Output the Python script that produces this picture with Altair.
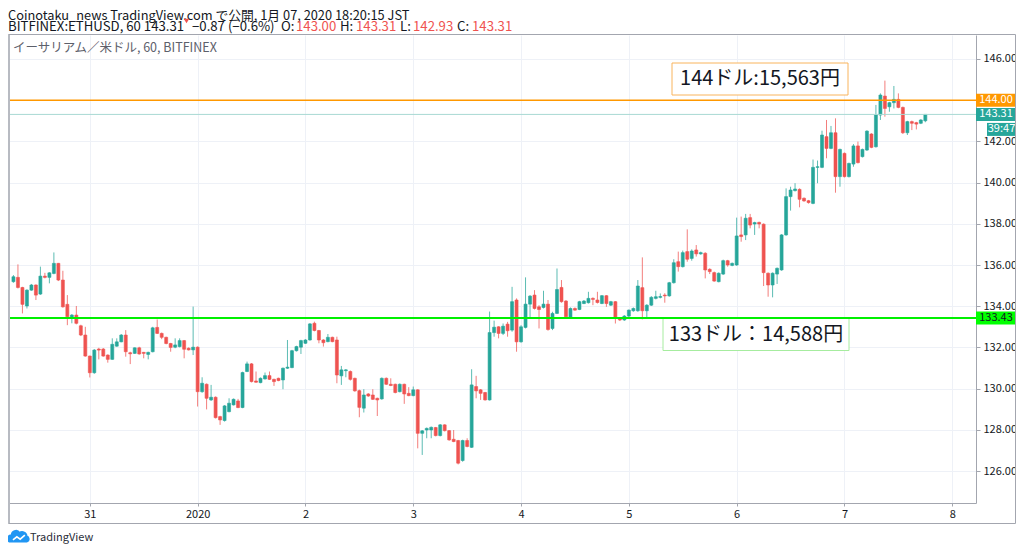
import altair as alt
import pandas as pd

# ---------------- data (hourly candles, JST) ----------------
start_time = "2019-12-30 07:00"

opens = [
    135.19, 135.40, 134.91, 134.01, 134.78, 135.03, 134.59, 135.46, 135.40, 135.59,
    136.08, 135.27, 134.09, 133.41, 133.57, 133.05, 132.60, 131.58, 130.77, 131.92,
    131.92, 131.63, 131.42, 132.06, 132.27, 132.60, 131.74, 131.71, 131.98, 131.76,
    131.66, 131.79, 132.97, 132.68, 132.49, 132.19, 132.01, 132.04, 132.33, 131.96,
    131.88, 132.01, 129.85, 130.21, 129.45, 129.58, 128.64, 128.45, 128.88, 129.21,
    129.40, 129.08, 130.83, 131.20, 130.37, 130.29, 130.47, 130.63, 130.45, 130.50,
    130.42, 130.99, 131.02, 131.84, 132.01, 132.20, 132.36, 133.17, 132.82, 132.36,
    132.28, 132.49, 132.36, 130.62, 130.87, 130.83, 130.50, 129.90, 129.05, 129.74,
    129.69, 129.53, 129.50, 130.50, 130.21, 130.21, 129.85, 130.21, 129.77, 129.66,
    129.94, 127.83, 127.99, 127.99, 128.11, 127.72, 128.24, 127.96, 127.54, 127.48,
    126.51, 127.48, 127.15, 130.10, 129.94, 129.81, 129.45, 132.72, 133.00, 132.68,
    133.13, 132.84, 134.30, 132.27, 132.97, 134.10, 134.54, 133.97, 133.94, 134.10,
    132.92, 133.65, 134.91, 134.25, 133.46, 133.89, 133.84, 134.13, 134.17, 134.38,
    134.30, 134.13, 134.51, 134.05, 134.22, 133.41, 133.33, 133.52, 133.78, 133.78,
    134.90, 133.78, 134.05, 134.38, 134.43, 134.54, 134.50, 135.14, 136.16, 135.92,
    136.65, 136.32, 136.73, 136.54, 136.57, 135.79, 135.63, 135.19, 135.56, 136.21,
    135.98, 136.00, 137.46, 137.46, 138.30, 137.99, 138.07, 137.98, 135.60, 135.03,
    135.56, 135.76, 137.46, 139.32, 139.61, 139.67, 139.24, 139.12, 138.99, 140.74,
    140.74, 142.23, 141.66, 142.42, 140.29, 141.42, 140.29, 140.90, 141.78, 141.26,
    141.58, 142.36, 141.74, 143.28, 144.20, 143.68, 143.88, 144.04, 143.65, 142.42,
    142.96, 142.91, 142.88, 143.00,
]
highs = [
    135.51, 136.03, 134.94, 134.82, 135.08, 135.06, 135.92, 135.62, 135.65, 136.61,
    136.10, 135.72, 134.54, 133.62, 134.01, 133.10, 133.00, 131.60, 131.92, 131.98,
    131.97, 131.66, 132.44, 132.44, 132.65, 132.84, 131.79, 132.00, 132.03, 131.78,
    131.79, 133.00, 133.36, 132.72, 132.52, 132.22, 132.44, 132.44, 132.36, 132.00,
    133.98, 132.05, 130.55, 130.25, 130.18, 129.62, 128.68, 129.20, 129.53, 129.52,
    129.50, 130.82, 131.31, 131.24, 130.83, 130.54, 130.78, 130.83, 130.48, 130.53,
    131.02, 132.36, 131.88, 132.08, 132.37, 132.40, 133.18, 133.25, 132.85, 132.40,
    132.65, 132.52, 132.52, 131.10, 130.95, 130.88, 130.53, 129.95, 129.97, 129.78,
    129.97, 129.56, 130.54, 130.54, 130.50, 130.24, 130.25, 130.24, 130.07, 130.10,
    129.97, 127.99, 128.11, 128.16, 128.14, 128.28, 128.27, 127.99, 127.99, 127.51,
    127.52, 127.59, 130.94, 130.62, 129.98, 129.84, 133.74, 133.30, 133.03, 133.16,
    133.24, 134.94, 134.38, 133.08, 135.40, 134.54, 134.78, 134.05, 134.75, 134.30,
    133.73, 135.83, 135.27, 134.30, 133.94, 133.94, 134.26, 134.30, 134.70, 134.43,
    134.70, 134.54, 134.54, 134.26, 134.25, 133.46, 133.57, 133.84, 133.94, 135.27,
    136.37, 134.10, 134.49, 134.75, 134.62, 134.63, 135.18, 136.28, 136.65, 136.70,
    137.73, 136.76, 136.97, 136.65, 136.62, 135.84, 135.68, 135.64, 136.26, 136.25,
    136.12, 138.30, 138.35, 138.48, 138.48, 138.10, 138.10, 138.02, 135.64, 135.64,
    135.88, 137.50, 139.72, 139.80, 139.97, 139.72, 139.28, 139.16, 141.12, 141.07,
    142.52, 143.04, 142.75, 143.12, 141.65, 141.46, 140.97, 141.87, 141.99, 141.65,
    142.54, 142.40, 143.77, 144.33, 144.95, 143.92, 144.69, 144.33, 143.69, 143.00,
    143.01, 142.95, 143.08, 143.31,
]
lows = [
    135.14, 134.86, 133.65, 133.89, 134.75, 134.30, 134.55, 135.35, 135.11, 135.55,
    135.22, 133.93, 133.08, 133.17, 133.12, 132.55, 131.55, 130.54, 130.72, 131.42,
    131.55, 131.26, 131.40, 132.03, 132.25, 131.55, 131.19, 131.68, 131.65, 131.47,
    131.42, 131.76, 132.65, 132.40, 132.15, 131.79, 131.96, 132.00, 131.47, 131.85,
    131.63, 129.13, 129.80, 128.99, 129.40, 128.55, 128.24, 128.40, 128.85, 129.18,
    129.05, 129.05, 130.80, 130.30, 130.28, 130.26, 130.44, 130.42, 130.13, 130.36,
    129.97, 130.96, 130.99, 131.80, 131.68, 132.17, 132.33, 132.78, 132.20, 132.04,
    132.25, 132.25, 130.26, 130.18, 130.55, 130.39, 129.85, 128.61, 128.84, 129.60,
    129.45, 128.67, 129.46, 130.18, 130.12, 129.77, 129.82, 129.26, 129.63, 129.63,
    127.10, 126.78, 127.59, 127.59, 127.68, 127.68, 127.92, 127.47, 127.40, 126.32,
    126.45, 127.15, 127.12, 129.53, 129.45, 129.42, 129.42, 132.52, 132.44, 132.60,
    132.52, 132.76, 131.79, 132.23, 132.92, 133.41, 133.84, 132.92, 133.89, 132.81,
    132.84, 133.62, 134.17, 133.46, 133.41, 133.78, 133.81, 134.10, 134.13, 134.05,
    134.13, 134.10, 133.97, 134.01, 133.16, 133.28, 133.29, 133.46, 133.73, 133.73,
    133.36, 133.41, 134.01, 134.33, 134.38, 134.17, 134.46, 135.10, 135.68, 135.88,
    136.16, 136.21, 136.41, 136.50, 135.35, 135.56, 135.19, 135.16, 135.52, 135.92,
    135.94, 135.96, 137.13, 137.21, 137.78, 137.46, 137.78, 134.98, 134.46, 134.43,
    135.08, 135.72, 137.42, 138.64, 139.57, 138.80, 139.07, 138.98, 138.95, 139.97,
    140.70, 141.18, 141.62, 139.51, 139.80, 140.25, 140.25, 140.77, 140.93, 141.22,
    141.54, 141.67, 141.70, 143.04, 143.20, 143.44, 143.60, 143.61, 142.36, 142.31,
    142.55, 142.58, 142.84, 142.93,
]
closes = [
    135.43, 134.91, 134.09, 134.78, 135.03, 134.54, 135.46, 135.40, 135.62, 136.08,
    135.27, 133.97, 133.49, 133.57, 133.17, 132.60, 131.58, 130.77, 131.87, 131.87,
    131.58, 131.42, 132.15, 132.27, 132.60, 131.79, 131.69, 131.98, 131.68, 131.71,
    131.76, 132.95, 132.68, 132.49, 132.19, 132.00, 132.12, 132.33, 131.91, 131.88,
    132.01, 129.85, 130.26, 129.53, 129.58, 128.59, 128.48, 129.16, 129.29, 129.48,
    129.08, 130.78, 131.20, 130.34, 130.31, 130.50, 130.63, 130.45, 130.34, 130.39,
    130.99, 131.04, 131.84, 132.04, 132.33, 132.36, 133.14, 132.82, 132.36, 132.23,
    132.49, 132.28, 130.66, 130.91, 130.91, 130.45, 129.89, 129.09, 129.69, 129.64,
    129.48, 129.45, 130.50, 130.21, 130.15, 129.81, 130.21, 129.74, 129.66, 129.94,
    127.83, 127.95, 128.07, 128.12, 127.72, 128.24, 127.96, 127.51, 127.43, 126.38,
    127.48, 127.19, 130.18, 129.89, 129.77, 129.45, 132.72, 132.98, 132.68, 133.03,
    132.81, 134.22, 132.27, 133.00, 134.10, 134.49, 133.89, 133.84, 134.10, 132.87,
    133.65, 134.81, 134.22, 133.49, 133.89, 133.81, 134.22, 134.25, 134.38, 134.33,
    134.18, 134.51, 134.13, 134.22, 133.41, 133.33, 133.52, 133.81, 133.89, 134.98,
    133.78, 134.05, 134.43, 134.46, 134.47, 134.50, 135.14, 136.11, 135.92, 136.60,
    136.28, 136.68, 136.54, 136.60, 135.76, 135.68, 135.22, 135.60, 136.21, 136.00,
    136.08, 137.41, 137.38, 138.27, 137.94, 138.06, 137.99, 135.63, 135.03, 135.60,
    135.84, 137.46, 139.32, 139.64, 139.69, 139.19, 139.11, 139.03, 140.74, 140.77,
    142.31, 141.66, 142.42, 140.29, 141.61, 140.29, 140.93, 141.78, 140.97, 141.61,
    142.50, 141.71, 143.28, 144.25, 143.60, 143.88, 144.04, 143.65, 142.42, 142.96,
    142.88, 142.84, 143.04, 143.31,
]

price_ticks = [126, 128, 130, 132, 134, 136, 138, 140, 142, 144, 146]
level_resistance = 144.00
level_support = 133.43
last_price = 143.31
countdown = "39:47"
note_resistance = "144ドル:15,563円"
note_support = "133ドル：14,588円"

header_1 = "Coinotaku_news TradingView.com で公開, 1月 07, 2020 18:20:15 JST"
header_2 = [
    ("BITFINEX:ETHUSD, 60 143.31", "dark"),
    ("−0.87 (−0.6%)", "dark"),
    ("O:", "dark"),
    ("143.00", "red"),
    ("H:", "dark"),
    ("143.31", "red"),
    ("L:", "dark"),
    ("142.93", "red"),
    ("C:", "dark"),
    ("143.31", "red"),
]
header_2_x = [0, 184, 273, 288, 332, 348, 392, 405, 449, 464]
symbol_title = "イーサリアム／米ドル, 60, BITFINEX"
footer = "TradingView"

# ---------------- styling ----------------
UP = "#26a69a"
DOWN = "#ef5350"
DARK = "#131722"
FRAME = "#a3a6af"
GRID = "#eef1f7"
FONT = "Noto Sans CJK JP"

W, H = 968, 468            # plot area
AX_R = 40                  # price-axis column width
AX_B = 20                  # time-axis row height

times = pd.date_range(start_time, periods=len(opens), freq="h").strftime("%Y-%m-%dT%H:%M:00Z")
df = pd.DataFrame({"t": list(times), "open": opens, "high": highs, "low": lows, "close": closes})

x_scale = alt.Scale(
    type="utc",
    domain=[
        alt.DateTime(year=2019, month=12, date=30, hours=6, minutes=54, utc=True),
        alt.DateTime(year=2020, month=1, date=8, hours=4, minutes=10, utc=True),
    ],
)
day_ticks = [alt.DateTime(year=2019, month=12, date=31, utc=True)] + [
    alt.DateTime(year=2020, month=1, date=d, utc=True) for d in range(1, 9)
]
y_scale = alt.Scale(domain=[124.447, 147.165], nice=False, zero=False)

x_axis = alt.Axis(
    values=day_ticks,
    labelExpr="utcdate(datum.value) == 1 ? '2020' : '' + utcdate(datum.value)",
    title=None, grid=True, gridColor=GRID, tickSize=3, tickColor=FRAME,
    domainColor=FRAME, labelFontSize=11, labelColor=DARK, labelPadding=2,
    labelFont=FONT, labelFlush=False,
)
y_axis = alt.Axis(
    orient="right", values=price_ticks, title=None, grid=True,
    labelExpr="datum.value == 144 ? '' : format(datum.value, '.2f')",
    gridColor=GRID, tickSize=4, tickColor=FRAME, domainColor=FRAME,
    labelFontSize=11, labelColor=DARK, labelPadding=3, labelFont=FONT,
)

color = alt.Color("dir:N", scale=alt.Scale(domain=["up", "down"], range=[UP, DOWN]), legend=None)

base = alt.Chart(df).transform_calculate(dir="datum.close >= datum.open ? 'up' : 'down'")

wicks = base.mark_rule(strokeWidth=1, opacity=0.75).encode(
    x=alt.X("t:T", scale=x_scale, axis=x_axis),
    y=alt.Y("low:Q", scale=y_scale, axis=y_axis),
    y2="high:Q",
    color=color,
)
bodies = base.mark_bar(size=3, strokeWidth=0.6).encode(
    x=alt.X("t:T", scale=x_scale),
    y=alt.Y("open:Q", scale=y_scale),
    y2="close:Q",
    color=color,
    stroke=color,
)

one = pd.DataFrame({"a": [0]})


def hline(value, col, width, opacity=1.0):
    return alt.Chart(one).mark_rule(color=col, strokeWidth=width, opacity=opacity).encode(
        y=alt.Y(datum=value, type="quantitative", scale=y_scale), x=alt.value(0), x2=alt.value(W)
    )


def txt(s, x, y, size=12, col=DARK, align="left", baseline="alphabetic", font=FONT):
    return alt.Chart(pd.DataFrame({"s": [s]})).mark_text(
        align=align, baseline=baseline, fontSize=size, color=col, font=font
    ).encode(x=alt.value(x), y=alt.value(y), text="s:N")


def price_tag(value, fill, label, col, x0=W, x1=W + AX_R, dy=0):
    band = alt.Chart(one).mark_rule(color=fill, strokeWidth=13, strokeCap="butt", yOffset=dy).encode(
        y=alt.Y(datum=value, type="quantitative", scale=y_scale), x=alt.value(x0), x2=alt.value(x1)
    )
    t = alt.Chart(pd.DataFrame({"s": [label]})).mark_text(
        align="center", baseline="middle", fontSize=11, color=col, font=FONT, yOffset=dy
    ).encode(
        y=alt.Y(datum=value, type="quantitative", scale=y_scale), x=alt.value((x0 + x1) / 2), text="s:N"
    )
    return band + t


def box(x0, x1, y0, y1, stroke):
    return alt.Chart(one).mark_rect(fill="white", stroke=stroke, strokeWidth=1).encode(
        x=alt.value(x0), x2=alt.value(x1), y=alt.value(y0), y2=alt.value(y1)
    )


frame = alt.Chart(one).mark_rect(fillOpacity=0, stroke=FRAME, strokeWidth=1).encode(
    x=alt.value(0.5), x2=alt.value(W + AX_R - 0.5), y=alt.value(-0.5), y2=alt.value(H + AX_B + 0.5)
)
left_edge = alt.Chart(one).mark_rule(color="#b8bbc2", strokeWidth=2).encode(
    x=alt.value(1), y=alt.value(0), y2=alt.value(H + AX_B)
)

layers = [
    wicks,
    bodies,
    hline(last_price, "#a9d9d4", 1),
    box(664, 840, 28, 60, "#f9b45c"),
    txt(note_resistance, 752, 44, size=20, baseline="middle", align="center"),
    box(655, 841, 283.5, 315.5, "#a6ec9f"),
    txt(note_support, 748, 300, size=20, baseline="middle", align="center"),
    hline(level_resistance, "#ff9800", 1.6),
    hline(level_support, "#00f000", 2),
    price_tag(level_resistance, "#ff9800", "144.00", "white"),
    price_tag(last_price, UP, "143.31", "white"),
    price_tag(last_price, UP, countdown, "white", x0=W + 11, dy=15),
    price_tag(level_support, "#00ff00", "133.43", DARK),
    frame,
    left_edge,
    txt(header_1, 0, -15.5, size=12.8),
    txt(symbol_title, 5, 17, size=12.5, col="#5d606b"),
]
for (s, kind), xx in zip(header_2, header_2_x):
    layers.append(txt(s, xx, -4, size=13.2, col=DOWN if kind == "red" else DARK))

# small red "down" triangle in the header
layers.append(
    alt.Chart(one).mark_point(shape="triangle-down", filled=True, color=DOWN, size=30, opacity=1)
    .encode(x=alt.value(178.5), y=alt.value(-14))
)

logo = alt.Chart(one).mark_point(
    shape="M-1,0.45 A0.32,0.32 0 0 1 -0.72,-0.12 A0.42,0.42 0 0 1 0.05,-0.42 A0.46,0.46 0 0 1 0.78,-0.05 A0.26,0.26 0 0 1 0.82,0.45 Z",
    filled=True, fill="#2196f3", stroke="#2196f3", size=380, opacity=1,
).encode(x=alt.value(11), y=alt.value(502))
logo_line = alt.Chart(one).mark_point(
    shape="M-0.62,0.3 L-0.22,-0.02 L0.12,0.22 L0.6,-0.2",
    filled=False, stroke="white", strokeWidth=1.6, size=380, opacity=1,
).encode(x=alt.value(11), y=alt.value(502))
layers += [logo, logo_line, txt(footer, 22, 506, size=11, col="#2a2e39")]

chart = alt.layer(*layers).properties(
    width=W, height=H,
    autosize=alt.AutoSizeParams(type="none"),
    padding={"left": 0, "top": 27, "right": AX_R, "bottom": 41},
    background="white",
).configure_view(strokeWidth=0)

chart.save("out.html", embed_options={"renderer": "svg", "actions": False})
